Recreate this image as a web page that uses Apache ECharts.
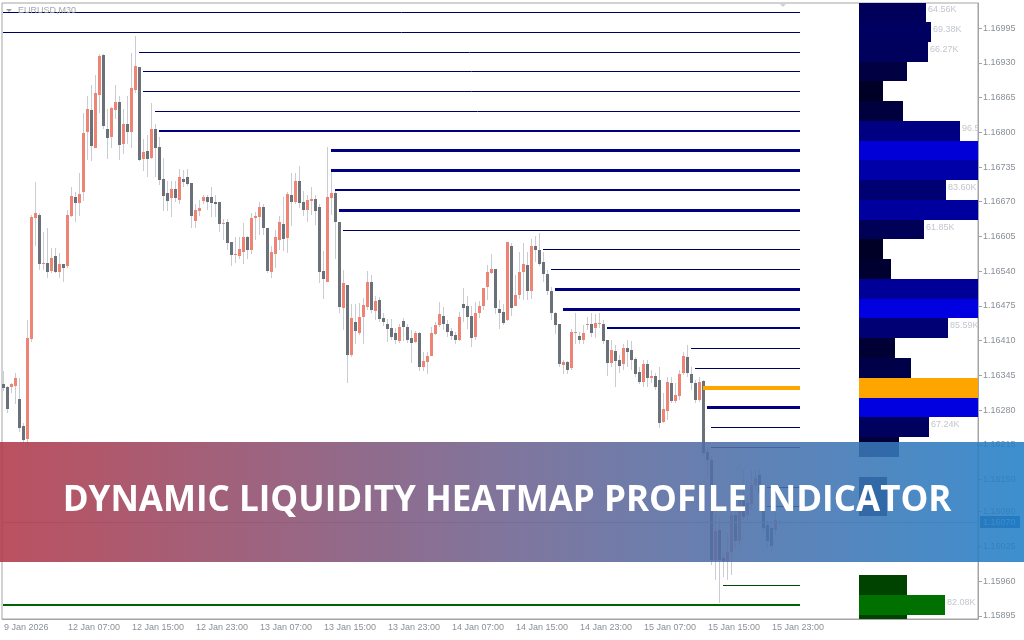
<!DOCTYPE html>
<html>
<head>
<meta charset="utf-8">
<title>Dynamic Liquidity Heatmap Profile Indicator</title>
<script src="https://cdn.jsdelivr.net/npm/echarts@6/dist/echarts.min.js"></script>
<style>
html, body { margin: 0; padding: 0; background: #fff; }
#chart { width: 1024px; height: 640px; }
</style>
</head>
<body>
<div id="chart"></div>
<script>
// x axis labels, one every 16 bars (8 hours of M30 bars)
var timeLabels = ['9 Jan 2026', '12 Jan 07:00', '12 Jan 15:00', '12 Jan 23:00', '13 Jan 07:00', '13 Jan 15:00',
  '13 Jan 23:00', '14 Jan 07:00', '14 Jan 15:00', '14 Jan 23:00', '15 Jan 07:00', '15 Jan 15:00', '15 Jan 23:00']

// price scale labels on the right
var priceTicks = [1.15895, 1.15960, 1.16025, 1.16090, 1.16150, 1.16215, 1.16280, 1.16345, 1.16410,
  1.16475, 1.16540, 1.16605, 1.16670, 1.16735, 1.16800, 1.16865, 1.16930, 1.16995]

var lastPrice = 1.16070

// EURUSD M30 bars: [open, close, low, high]
var candles = [
  [1.16328, 1.16322, 1.16316, 1.16353], [1.16324, 1.16282, 1.16274, 1.16326], [1.16324, 1.16328, 1.16312, 1.16330],
  [1.16326, 1.16340, 1.16292, 1.16349], [1.16301, 1.16247, 1.16239, 1.16340], [1.16251, 1.16224, 1.16218, 1.16256],
  [1.16226, 1.16415, 1.16211, 1.16449], [1.16413, 1.16642, 1.16408, 1.16646], [1.16640, 1.16648, 1.16588, 1.16707],
  [1.16646, 1.16554, 1.16543, 1.16649], [1.16554, 1.16555, 1.16543, 1.16613], [1.16555, 1.16539, 1.16528, 1.16621],
  [1.16541, 1.16565, 1.16537, 1.16584], [1.16569, 1.16539, 1.16537, 1.16584], [1.16539, 1.16554, 1.16528, 1.16574],
  [1.16554, 1.16546, 1.16520, 1.16554], [1.16550, 1.16646, 1.16546, 1.16655], [1.16644, 1.16681, 1.16642, 1.16698],
  [1.16679, 1.16668, 1.16632, 1.16688], [1.16668, 1.16685, 1.16644, 1.16724], [1.16688, 1.16799, 1.16672, 1.16836],
  [1.16801, 1.16844, 1.16749, 1.16867], [1.16842, 1.16775, 1.16747, 1.16889], [1.16771, 1.16873, 1.16771, 1.16908],
  [1.16869, 1.16943, 1.16836, 1.16947], [1.16945, 1.16812, 1.16806, 1.16947], [1.16806, 1.16790, 1.16750, 1.16844],
  [1.16792, 1.16846, 1.16771, 1.16848], [1.16842, 1.16857, 1.16825, 1.16889], [1.16857, 1.16777, 1.16749, 1.16867],
  [1.16779, 1.16816, 1.16760, 1.16844], [1.16816, 1.16801, 1.16779, 1.16867], [1.16801, 1.16883, 1.16771, 1.16948],
  [1.16880, 1.16925, 1.16874, 1.16981], [1.16923, 1.16749, 1.16747, 1.16923], [1.16750, 1.16763, 1.16728, 1.16788],
  [1.16765, 1.16750, 1.16717, 1.16794], [1.16752, 1.16806, 1.16750, 1.16854], [1.16806, 1.16771, 1.16717, 1.16816],
  [1.16773, 1.16711, 1.16702, 1.16792], [1.16713, 1.16681, 1.16653, 1.16752], [1.16686, 1.16672, 1.16653, 1.16709],
  [1.16677, 1.16694, 1.16642, 1.16709], [1.16694, 1.16677, 1.16670, 1.16709], [1.16674, 1.16717, 1.16665, 1.16732],
  [1.16713, 1.16707, 1.16698, 1.16730], [1.16717, 1.16704, 1.16700, 1.16732], [1.16705, 1.16644, 1.16621, 1.16705],
  [1.16634, 1.16655, 1.16621, 1.16665], [1.16653, 1.16659, 1.16644, 1.16674], [1.16672, 1.16679, 1.16665, 1.16683],
  [1.16679, 1.16670, 1.16655, 1.16683], [1.16679, 1.16668, 1.16642, 1.16698], [1.16670, 1.16665, 1.16642, 1.16683],
  [1.16670, 1.16629, 1.16613, 1.16670], [1.16629, 1.16630, 1.16599, 1.16638], [1.16632, 1.16592, 1.16580, 1.16638],
  [1.16595, 1.16571, 1.16550, 1.16595], [1.16571, 1.16573, 1.16555, 1.16604], [1.16569, 1.16582, 1.16563, 1.16604],
  [1.16576, 1.16604, 1.16554, 1.16630], [1.16604, 1.16580, 1.16563, 1.16606], [1.16580, 1.16640, 1.16573, 1.16649],
  [1.16640, 1.16644, 1.16599, 1.16651], [1.16642, 1.16661, 1.16608, 1.16670], [1.16661, 1.16621, 1.16608, 1.16665],
  [1.16621, 1.16541, 1.16536, 1.16621], [1.16539, 1.16576, 1.16528, 1.16588], [1.16573, 1.16604, 1.16546, 1.16617],
  [1.16599, 1.16632, 1.16580, 1.16644], [1.16629, 1.16600, 1.16578, 1.16679], [1.16602, 1.16685, 1.16574, 1.16688],
  [1.16683, 1.16670, 1.16625, 1.16723], [1.16670, 1.16709, 1.16665, 1.16723], [1.16709, 1.16667, 1.16659, 1.16736],
  [1.16670, 1.16655, 1.16644, 1.16690], [1.16655, 1.16674, 1.16632, 1.16683], [1.16672, 1.16675, 1.16646, 1.16698],
  [1.16675, 1.16653, 1.16627, 1.16683], [1.16661, 1.16539, 1.16518, 1.16665], [1.16541, 1.16526, 1.16488, 1.16578],
  [1.16520, 1.16679, 1.16520, 1.16773], [1.16677, 1.16686, 1.16646, 1.16728], [1.16686, 1.16632, 1.16563, 1.16692],
  [1.16632, 1.16473, 1.16462, 1.16632], [1.16471, 1.16517, 1.16430, 1.16543], [1.16515, 1.16384, 1.16331, 1.16515],
  [1.16384, 1.16453, 1.16380, 1.16479], [1.16445, 1.16428, 1.16403, 1.16479], [1.16424, 1.16455, 1.16421, 1.16480],
  [1.16455, 1.16477, 1.16403, 1.16490], [1.16473, 1.16520, 1.16468, 1.16541], [1.16520, 1.16468, 1.16462, 1.16532],
  [1.16466, 1.16484, 1.16449, 1.16494], [1.16486, 1.16451, 1.16445, 1.16492], [1.16453, 1.16445, 1.16438, 1.16462],
  [1.16442, 1.16432, 1.16408, 1.16451], [1.16434, 1.16417, 1.16412, 1.16451], [1.16424, 1.16412, 1.16403, 1.16434],
  [1.16410, 1.16436, 1.16405, 1.16442], [1.16447, 1.16436, 1.16410, 1.16453], [1.16436, 1.16412, 1.16405, 1.16442],
  [1.16415, 1.16406, 1.16368, 1.16430], [1.16408, 1.16424, 1.16405, 1.16428], [1.16424, 1.16361, 1.16353, 1.16426],
  [1.16361, 1.16372, 1.16353, 1.16389], [1.16370, 1.16382, 1.16348, 1.16389], [1.16382, 1.16424, 1.16382, 1.16436],
  [1.16423, 1.16440, 1.16421, 1.16445], [1.16440, 1.16459, 1.16436, 1.16482], [1.16457, 1.16442, 1.16430, 1.16473],
  [1.16442, 1.16426, 1.16417, 1.16449], [1.16428, 1.16419, 1.16412, 1.16434], [1.16421, 1.16412, 1.16403, 1.16426],
  [1.16412, 1.16455, 1.16410, 1.16464], [1.16479, 1.16471, 1.16445, 1.16509], [1.16475, 1.16455, 1.16432, 1.16494],
  [1.16457, 1.16415, 1.16399, 1.16475], [1.16417, 1.16462, 1.16412, 1.16482], [1.16462, 1.16475, 1.16453, 1.16484],
  [1.16475, 1.16509, 1.16468, 1.16509], [1.16511, 1.16539, 1.16486, 1.16552], [1.16537, 1.16544, 1.16534, 1.16573],
  [1.16544, 1.16471, 1.16459, 1.16544], [1.16469, 1.16462, 1.16432, 1.16486], [1.16464, 1.16443, 1.16440, 1.16479],
  [1.16449, 1.16595, 1.16447, 1.16595], [1.16588, 1.16471, 1.16457, 1.16592], [1.16475, 1.16496, 1.16475, 1.16532],
  [1.16496, 1.16539, 1.16488, 1.16576], [1.16539, 1.16554, 1.16486, 1.16593], [1.16552, 1.16503, 1.16486, 1.16576],
  [1.16503, 1.16588, 1.16488, 1.16600], [1.16588, 1.16580, 1.16557, 1.16606], [1.16580, 1.16554, 1.16550, 1.16611],
  [1.16557, 1.16534, 1.16520, 1.16576], [1.16534, 1.16503, 1.16496, 1.16543], [1.16503, 1.16461, 1.16449, 1.16511],
  [1.16461, 1.16440, 1.16423, 1.16464], [1.16442, 1.16367, 1.16361, 1.16442], [1.16365, 1.16370, 1.16348, 1.16374],
  [1.16370, 1.16355, 1.16348, 1.16372], [1.16359, 1.16426, 1.16355, 1.16432], [1.16424, 1.16426, 1.16403, 1.16462],
  [1.16419, 1.16412, 1.16403, 1.16426], [1.16412, 1.16424, 1.16403, 1.16440], [1.16440, 1.16442, 1.16430, 1.16455],
  [1.16442, 1.16424, 1.16417, 1.16461], [1.16434, 1.16443, 1.16415, 1.16459], [1.16442, 1.16443, 1.16434, 1.16462],
  [1.16442, 1.16410, 1.16403, 1.16449], [1.16412, 1.16368, 1.16344, 1.16412], [1.16368, 1.16393, 1.16361, 1.16412],
  [1.16391, 1.16372, 1.16324, 1.16401], [1.16374, 1.16363, 1.16349, 1.16384], [1.16367, 1.16397, 1.16355, 1.16403],
  [1.16397, 1.16389, 1.16361, 1.16412], [1.16393, 1.16374, 1.16355, 1.16410], [1.16376, 1.16348, 1.16342, 1.16380],
  [1.16351, 1.16333, 1.16328, 1.16361], [1.16333, 1.16367, 1.16324, 1.16374], [1.16367, 1.16340, 1.16324, 1.16374],
  [1.16340, 1.16344, 1.16331, 1.16355], [1.16344, 1.16324, 1.16318, 1.16349], [1.16337, 1.16256, 1.16247, 1.16361],
  [1.16258, 1.16282, 1.16256, 1.16312], [1.16278, 1.16333, 1.16262, 1.16342], [1.16331, 1.16297, 1.16293, 1.16342],
  [1.16297, 1.16309, 1.16293, 1.16331], [1.16307, 1.16348, 1.16299, 1.16355], [1.16349, 1.16382, 1.16346, 1.16389],
  [1.16380, 1.16349, 1.16342, 1.16401], [1.16348, 1.16330, 1.16318, 1.16361], [1.16330, 1.16299, 1.16293, 1.16337],
  [1.16299, 1.16333, 1.16295, 1.16342], [1.16335, 1.16200, 1.16193, 1.16337], [1.16202, 1.16187, 1.16153, 1.16211],
  [1.16187, 1.16000, 1.15991, 1.16195], [1.16000, 1.16054, 1.15962, 1.16087], [1.16056, 1.16000, 1.15919, 1.16080],
  [1.16003, 1.15998, 1.15968, 1.16012], [1.15996, 1.16014, 1.15962, 1.16050], [1.16014, 1.16084, 1.15972, 1.16106],
  [1.16084, 1.16035, 1.16022, 1.16103], [1.16035, 1.16122, 1.16028, 1.16131], [1.16122, 1.16080, 1.16075, 1.16168],
  [1.16084, 1.16106, 1.16075, 1.16122], [1.16105, 1.16140, 1.16093, 1.16168], [1.16140, 1.16153, 1.16131, 1.16168],
  [1.16159, 1.16125, 1.16112, 1.16168], [1.16127, 1.16060, 1.16050, 1.16136], [1.16065, 1.16035, 1.16024, 1.16075],
  [1.16060, 1.16026, 1.16012, 1.16069], [1.16056, 1.16075, 1.16047, 1.16087], [1.16069, 1.16071, 1.16067, 1.16075]
]

// liquidity profile: bucket centre price, volume (K) and the bar where each level line starts
var levelPrices = [1.17025, 1.16988, 1.16951, 1.16914, 1.16877, 1.16840, 1.16803, 1.16766, 1.16729, 1.16692,
  1.16655, 1.16618, 1.16581, 1.16544, 1.16507, 1.16470, 1.16433, 1.16396, 1.16359, 1.16322, 1.16285,
  1.16248, 1.16211, 1.16174, 1.16137, 1.16100, 1.16063, 1.16026, 1.15989, 1.15952, 1.15915, 1.15878]
var levelVolumes = [64.56, 69.38, 66.27, 45.6, 22.8, 41.8, 96.54, 164, 126, 83.60,
  118, 61.85, 22.8, 30.4, 114, 171, 85.59, 34.2, 49.4, 180, 171,
  67.24, 38.0, 0, 26.6, 26.6, 0, 0, 0, 45.6, 82.08, 45.6]
var levelStarts = [0, 0, 34, 35, 35, 38, 39, 82, 82, 83,
  84, 85, 135, 137, 138, 140, 151, 172, 173, 175, 176,
  177, 177, null, 191, 191, null, null, null, 180, 0, null]

var yMin = 1.15889
var yMax = 1.17042
var volMax = 114        // volume that fills the profile panel
var lineEnd = 199       // bar index where level lines stop
var bidZone = 1.15970   // buckets below this are drawn green
var axisFont = '"Liberation Sans", Arial, sans-serif'

var slots = []
for (var i = 0; i < 244; i++) slots.push(String(i))

var half = (levelPrices[0] - levelPrices[1]) / 2
var poc = levelVolumes.indexOf(Math.max.apply(null, levelVolumes))

function heat (k, v) {
  if (k === poc) return '#ffa500'
  var c = Math.min(255, Math.round(10 + 1.25 * v))
  return levelPrices[k] < bidZone ? 'rgb(0,' + c + ',0)' : 'rgb(0,0,' + c + ')'
}

function lineWidth (k, v) {
  if (k === poc) return 4
  if (v >= volMax) return 3
  if (v >= 80) return 2
  return 1
}

function lineColor (k, v) {
  if (k === poc) return '#ffa500'
  if (levelPrices[k] < bidZone) return v >= 80 ? '#006400' : '#004a00'
  return v >= 80 ? '#000080' : '#000060'
}

var candleData = candles.map(function (c, i) { return [i, c[0], c[1], c[2], c[3]] })

var levelData = []
levelPrices.forEach(function (p, k) {
  if (levelStarts[k] !== null && levelVolumes[k] > 0) levelData.push([k, levelStarts[k], lineEnd, p, levelVolumes[k]])
})

var bucketData = levelPrices.map(function (p, k) { return [k, p, levelVolumes[k]] })

function drawCandle (params, api) {
  var i = api.value(0)
  var o = api.value(1)
  var c = api.value(2)
  var hi = api.coord([i, api.value(4)])
  var lo = api.coord([i, api.value(3)])
  var po = api.coord([i, o])
  var pc = api.coord([i, c])
  var cx = Math.round(hi[0])
  var y1 = Math.round(Math.min(po[1], pc[1]))
  var y2 = Math.round(Math.max(po[1], pc[1]))
  if (y2 - y1 < 1) y2 = y1 + 1
  var wt = Math.round(hi[1])
  var wb = Math.max(wt + 1, Math.round(lo[1]))
  return {
    type: 'group',
    children: [
      { type: 'rect', shape: { x: cx - 1, y: wt, width: 1, height: wb - wt }, style: { fill: '#c9ccd3' } },
      { type: 'rect', shape: { x: cx - 2, y: y1, width: 3, height: y2 - y1 }, style: { fill: c > o ? '#f08474' : '#6b7179' } }
    ]
  }
}

function drawLevel (params, api) {
  var k = api.value(0)
  var v = api.value(4)
  var a = api.coord([api.value(1), api.value(3)])
  var b = api.coord([api.value(2), api.value(3)])
  var w = lineWidth(k, v)
  var y = Math.round(a[1]) + (w % 2 ? 0.5 : 0)
  return {
    type: 'line',
    shape: { x1: Math.round(a[0]) - 1, y1: y, x2: Math.round(b[0]), y2: y },
    style: { stroke: lineColor(k, v), lineWidth: w }
  }
}

function drawBucket (params, api) {
  var k = api.value(0)
  var p = api.value(1)
  var v = api.value(2)
  if (!v) return null
  var cs = params.coordSys
  var right = cs.x + cs.width
  var a = api.coord([0, p + half])
  var b = api.coord([v, p - half])
  var x0 = Math.round(a[0])
  var x1 = Math.min(Math.round(b[0]), right)
  var y0 = Math.round(a[1])
  var y1 = Math.round(b[1])
  var kids = [{ type: 'rect', shape: { x: x0, y: y0, width: x1 - x0, height: y1 - y0 }, style: { fill: heat(k, v) } }]
  if (v >= 60 && v < volMax && k !== poc) {
    kids.push({
      type: 'text',
      x: x1 + 2,
      y: y0 + 8,
      style: {
        text: v.toFixed(2) + 'K', fill: '#c2c6cd', font: '9px ' + axisFont, verticalAlign: 'middle',
        width: right - x1 + 3, overflow: 'truncate', ellipsis: ''
      }
    })
  }
  return { type: 'group', children: kids }
}

// current bid line across the chart with its tag on the price scale
function drawLast (params, api) {
  var cs = params.coordSys
  var p = api.coord([0, api.value(1)])
  var y = Math.round(p[1]) + 0.5
  var right = cs.x + cs.width
  return {
    type: 'group',
    children: [
      { type: 'line', shape: { x1: cs.x, y1: y, x2: right, y2: y }, style: { stroke: '#b7bec8', lineWidth: 1 } },
      { type: 'rect', shape: { x: right + 2, y: y - 6.5, width: 40, height: 12 }, style: { fill: '#1d5c9b' } },
      {
        type: 'text', x: right + 5, y: y,
        style: { text: api.value(1).toFixed(5), fill: '#cfe1f2', font: '9px ' + axisFont, verticalAlign: 'middle' }
      }
    ]
  }
}

var chart = echarts.init(document.getElementById('chart'))
chart.setOption({
  animation: false,
  backgroundColor: '#ffffff',
  grid: [
    { left: 2, top: 3, width: 976, height: 616, show: true, borderColor: '#a4a4a4', borderWidth: 1, backgroundColor: '#ffffff' },
    { left: 859, top: 3, width: 119, height: 616, show: false }
  ],
  xAxis: [
    {
      type: 'category', data: slots, gridIndex: 0, boundaryGap: true,
      axisLine: { lineStyle: { color: '#a4a4a4' } },
      axisTick: {
        alignWithLabel: true, length: 4, lineStyle: { color: '#a4a4a4' },
        interval: function (idx) { return idx % 16 === 0 && idx / 16 < timeLabels.length }
      },
      axisLabel: {
        interval: function (idx) { return idx % 16 === 0 && idx / 16 < timeLabels.length },
        formatter: function (v, idx) { return timeLabels[idx / 16] || '' },
        align: 'left', margin: 4, color: '#8a8f98', fontSize: 9, fontFamily: axisFont
      },
      splitLine: { show: false }
    },
    { type: 'value', gridIndex: 1, min: 0, max: volMax, show: false }
  ],
  yAxis: [
    {
      type: 'value', gridIndex: 0, position: 'right', min: yMin, max: yMax,
      axisLine: { show: true, lineStyle: { color: '#a4a4a4' } },
      axisTick: { show: true, length: 4, customValues: priceTicks, lineStyle: { color: '#a4a4a4' } },
      axisLabel: {
        customValues: priceTicks, margin: 5, color: '#8a8f98', fontSize: 9, fontFamily: axisFont,
        formatter: function (v) { return v.toFixed(5) }
      },
      splitLine: { show: false }
    },
    { type: 'value', gridIndex: 1, min: yMin, max: yMax, show: false }
  ],
  series: [
    { type: 'custom', name: 'EURUSD,M30', xAxisIndex: 0, yAxisIndex: 0, clip: true, renderItem: drawCandle, data: candleData, z: 2 },
    { type: 'custom', name: 'bid', xAxisIndex: 0, yAxisIndex: 0, clip: false, renderItem: drawLast, data: [[0, lastPrice]], z: 2 },
    { type: 'custom', name: 'levels', xAxisIndex: 0, yAxisIndex: 0, clip: true, renderItem: drawLevel, data: levelData, z: 3 },
    { type: 'custom', name: 'profile', xAxisIndex: 1, yAxisIndex: 1, clip: true, renderItem: drawBucket, data: bucketData, z: 3 }
  ],
  graphic: [
    { type: 'polygon', shape: { points: [[6, 9], [12, 9], [9, 12]] }, style: { fill: '#9aa0aa' }, z: 10 },
    { type: 'text', x: 18, y: 6, style: { text: 'EURUSD,M30', fill: '#a3a8b2', font: '9px ' + axisFont }, z: 10 },
    { type: 'polygon', shape: { points: [[779, 3], [787, 3], [783, 7]] }, style: { fill: '#cfd2d8' }, z: 10 },
    {
      type: 'rect', x: 0, y: 442, shape: { width: 1024, height: 120 }, z: 100,
      style: {
        opacity: 0.88,
        fill: new echarts.graphic.LinearGradient(0, 0, 1, 0, [
          { offset: 0, color: '#b2394a' },
          { offset: 0.5, color: '#6e6390' },
          { offset: 1, color: '#2380c8' }
        ])
      }
    },
    {
      type: 'text', x: 507, y: 501, z: 101,
      style: {
        text: 'DYNAMIC LIQUIDITY HEATMAP PROFILE INDICATOR', fill: '#ffffff',
        font: 'bold 35px "Open Sans", sans-serif', align: 'center', verticalAlign: 'middle'
      }
    }
  ]
})
</script>
</body>
</html>
